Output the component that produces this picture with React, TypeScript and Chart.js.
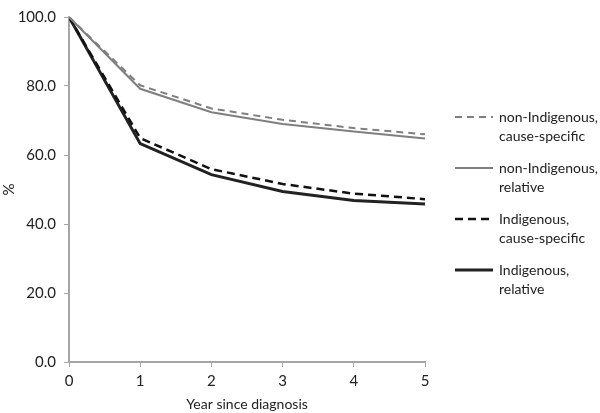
import React, { useEffect, useRef } from "react";
import { Chart, registerables } from "chart.js";

Chart.register(...registerables);

const years = [0, 1, 2, 3, 4, 5];
const nonIndigenousCause = [100, 80.2, 73.5, 70.2, 67.8, 66.0];
const nonIndigenousRelative = [100, 79.2, 72.4, 69.0, 66.8, 64.8];
const indigenousCause = [100, 64.9, 55.9, 51.6, 48.8, 47.2];
const indigenousRelative = [100, 63.3, 54.3, 49.4, 46.8, 45.8];
const seriesLabels = [
  ["non-Indigenous,", "cause-specific"],
  ["non-Indigenous,", "relative"],
  ["Indigenous,", "cause-specific"],
  ["Indigenous,", "relative"],
];
const yTicks = [0, 20, 40, 60, 80, 100];

const FONT = "Lato";

const legendPlugin = {
  id: "sideLegend",
  afterDraw(chart: any) {
    const ctx = chart.ctx;
    const ds = chart.data.datasets;
    const x0 = 455;
    const x1 = 493;
    const tx = 499;
    const startY = 117;
    const gap = 51;
    ctx.save();
    ds.forEach((d: any, i: number) => {
      const y = startY + i * gap;
      ctx.beginPath();
      ctx.strokeStyle = d.borderColor;
      ctx.lineWidth = d.borderWidth;
      ctx.setLineDash(d.borderDash || []);
      ctx.moveTo(x0, y);
      ctx.lineTo(x1, y);
      ctx.stroke();
      ctx.setLineDash([]);
      ctx.fillStyle = "#222";
      ctx.font = `14px ${FONT}`;
      ctx.textBaseline = "middle";
      ctx.textAlign = "left";
      const lines = d.legendLines as string[];
      lines.forEach((t: string, j: number) => {
        ctx.fillText(t, tx, y + j * 19);
      });
    });
    ctx.restore();
  },
};

export default function App() {
  const ref = useRef<HTMLCanvasElement>(null);
  useEffect(() => {
    document.body.style.margin = "0";
    const mk = (vals: number[]) => vals.map((v, i) => ({ x: years[i], y: v }));
    const chart = new Chart(ref.current!, {
      type: "line",
      data: {
        datasets: [
          {
            label: seriesLabels[0].join(" "),
            legendLines: seriesLabels[0],
            data: mk(nonIndigenousCause),
            borderColor: "#7f7f7f",
            borderWidth: 2,
            borderDash: [7, 5],
            pointRadius: 0,
            tension: 0,
          } as any,
          {
            label: seriesLabels[1].join(" "),
            legendLines: seriesLabels[1],
            data: mk(nonIndigenousRelative),
            borderColor: "#7f7f7f",
            borderWidth: 2,
            pointRadius: 0,
            tension: 0,
          } as any,
          {
            label: seriesLabels[2].join(" "),
            legendLines: seriesLabels[2],
            data: mk(indigenousCause),
            borderColor: "#111111",
            borderWidth: 2.5,
            borderDash: [8, 5],
            pointRadius: 0,
            tension: 0,
          } as any,
          {
            label: seriesLabels[3].join(" "),
            legendLines: seriesLabels[3],
            data: mk(indigenousRelative),
            borderColor: "#222222",
            borderWidth: 3,
            pointRadius: 0,
            tension: 0,
          } as any,
        ],
      },
      options: {
        responsive: false,
        animation: false,
        layout: { padding: { left: 0, right: 175, top: 6, bottom: 0 } },
        plugins: { legend: { display: false }, tooltip: { enabled: false } },
        scales: {
          x: {
            type: "linear",
            min: 0,
            max: 5,
            ticks: {
              stepSize: 1,
              color: "#222",
              font: { family: FONT, size: 15 },
              padding: 5,
            },
            grid: {
              drawOnChartArea: false,
              drawTicks: true,
              tickLength: 5,
              color: "#a6a6a6",
            },
            border: { color: "#a6a6a6", width: 2 },
            title: {
              display: true,
              text: "Year since diagnosis",
              color: "#222",
              font: { family: FONT, size: 14 },
              padding: { top: 2, bottom: 0 },
            },
            afterFit: (s: any) => {
              s.height = 51;
            },
          },
          y: {
            min: 0,
            max: 100,
            afterBuildTicks: (s: any) => {
              s.ticks = yTicks.map((v) => ({ value: v }));
            },
            ticks: {
              color: "#222",
              font: { family: FONT, size: 15 },
              callback: (v: any) => Number(v).toFixed(1),
              padding: 8,
            },
            grid: {
              drawOnChartArea: false,
              drawTicks: true,
              tickLength: 5,
              color: "#a6a6a6",
            },
            border: { color: "#a6a6a6", width: 2 },
            title: {
              display: true,
              text: "%",
              color: "#222",
              font: { family: FONT, size: 15 },
              padding: 0,
            },
            afterFit: (s: any) => {
              s.width = 69;
            },
          },
        },
      },
      plugins: [legendPlugin],
    });
    return () => chart.destroy();
  }, []);
  return <canvas ref={ref} width={600} height={413} style={{ display: "block" }} />;
}
